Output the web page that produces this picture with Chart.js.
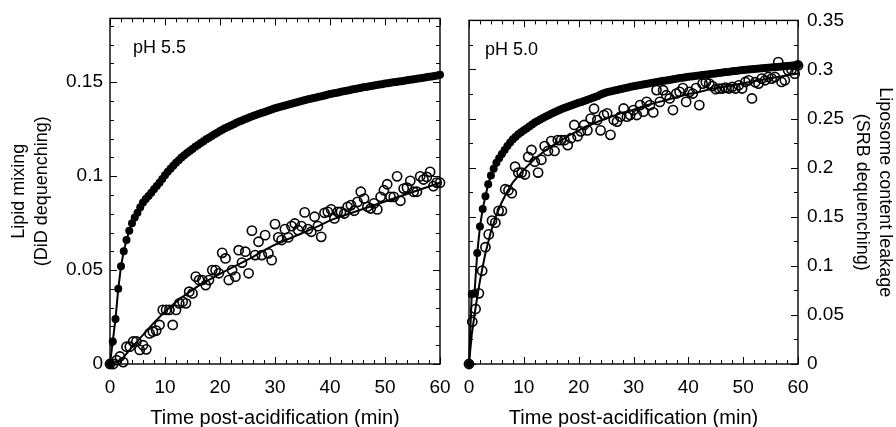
<!DOCTYPE html>
<html>
<head>
<meta charset="utf-8">
<script src="https://cdn.jsdelivr.net/npm/chart.js@4.4.0/dist/chart.umd.min.js"></script>
<style>
  body { margin: 0; background: #fff; }
  #wrap { position: relative; width: 896px; height: 427px; }
  canvas { position: absolute; top: 0; }
  #left { left: 0; }
  #right { left: 455px; }
</style>
</head>
<body>
<div id="wrap">
  <canvas id="left" width="455" height="427"></canvas>
  <canvas id="right" width="441" height="427"></canvas>
</div>
<script>
// sampling times (min)
var timesFilled = [0,0.5,1,1.5,2,2.5,3,3.5,4,4.5,5,5.5,6,6.5,7,7.5,8,8.5,9,9.5,10,
  10.5,11,11.5,12,12.5,13,13.5,14,14.5,15,15.5,16,16.5,17,17.5,18,18.5,19,19.5,20,
  20.5,21,21.5,22,22.5,23,23.5,24,24.5,25,25.5,26,26.5,27,27.5,28,28.5,29,29.5,30,
  30.5,31,31.5,32,32.5,33,33.5,34,34.5,35,35.5,36,36.5,37,37.5,38,38.5,39,39.5,40,
  40.5,41,41.5,42,42.5,43,43.5,44,44.5,45,45.5,46,46.5,47,47.5,48,48.5,49,49.5,50,
  50.5,51,51.5,52,52.5,53,53.5,54,54.5,55,55.5,56,56.5,57,57.5,58,58.5,59,59.5,60];
var timesOpen = [0,0.6,1.2,1.8,2.4,3,3.6,4.2,4.8,5.4,6,6.6,7.2,7.8,8.4,9,9.6,10.2,10.8,11.4,
  12,12.6,13.2,13.8,14.4,15,15.6,16.2,16.8,17.4,18,18.6,19.2,19.8,20.4,21,21.6,22.2,22.8,23.4,
  24,24.6,25.2,25.8,26.4,27,27.6,28.2,28.8,29.4,30,30.6,31.2,31.8,32.4,33,33.6,34.2,34.8,35.4,
  36,36.6,37.2,37.8,38.4,39,39.6,40.2,40.8,41.4,42,42.6,43.2,43.8,44.4,45,45.6,46.2,46.8,47.4,
  48,48.6,49.2,49.8,50.4,51,51.6,52.2,52.8,53.4,54,54.6,55.2,55.8,56.4,57,57.6,58.2,58.8,59.4,60];

// pH 5.5 panel
var lipidMix55 = [0,0.012,0.024,0.040,0.052,0.060,0.066,0.071,0.075,0.078,0.0805,0.0835,0.086,0.0878,0.0895,0.0912,0.0930,0.0948,0.0965,0.0985,0.1005,
  0.1023,0.1040,0.1056,0.1071,0.1085,0.1099,0.1111,0.1123,0.1134,0.1145,
  0.1156,0.1166,0.1176,0.1186,0.1196,0.1205,0.1214,0.1223,0.1231,0.1240,
  0.1248,0.1256,0.1263,0.1270,0.1277,0.1284,0.1291,0.1297,0.1303,0.1309,
  0.1315,0.1320,0.1326,0.1331,0.1336,0.1341,0.1346,0.1351,0.1356,0.1361,
  0.1365,0.1369,0.1373,0.1377,0.1381,0.1385,0.1389,0.1393,0.1397,0.1401,
  0.1405,0.1409,0.1412,0.1416,0.1419,0.1423,0.1426,0.1430,0.1433,0.1437,
  0.1440,0.1443,0.1446,0.1449,0.1452,0.1455,0.1458,0.1461,0.1464,0.1467,
  0.1470,0.1473,0.1475,0.1478,0.1480,0.1483,0.1485,0.1488,0.1490,0.1493,
  0.1495,0.1497,0.1500,0.1502,0.1504,0.1506,0.1508,0.1511,0.1513,0.1515,
  0.1517,0.1520,0.1522,0.1524,0.1527,0.1529,0.1531,0.1533,0.1536,0.1540];
var leakage55 = [0,0.000,0.002,0.004,0.001,0.0092,0.0092,0.012,0.012,0.0075,
  0.010,0.0078,0.0163,0.0172,0.0178,0.0208,0.0288,0.0288,0.0288,0.0208,
  0.0288,0.0323,0.0332,0.0323,0.0385,0.0376,0.0465,0.0447,0.0447,0.042,
  0.0447,0.050,0.050,0.0483,0.0592,0.0562,0.0447,0.050,0.0465,0.0606,
  0.054,0.0598,0.0483,0.071,0.058,0.0651,0.058,0.0686,0.0589,0.0553,
  0.0745,0.0674,0.066,0.0718,0.0674,0.0734,0.0748,0.0713,0.0734,0.0807,
  0.0718,0.0704,0.0784,0.0734,0.0677,0.0805,0.0810,0.0823,0.0775,0.0810,
  0.0810,0.0801,0.0837,0.0846,0.0816,0.0863,0.0917,0.0881,0.0837,0.0828,
  0.0855,0.0823,0.0890,0.0925,0.0957,0.0890,0.0890,0.0999,0.0869,0.0934,
  0.0939,0.0975,0.0917,0.0917,0.0999,0.0982,0.0996,0.1023,0.0947,0.0966,0.0965];
var fitTimes55 = [0,2,4,6,8,10,12,14,16,18,20,22,24,26,28,30,32,34,36,38,40,42,44,46,48,50,52,54,56,58,60];
var leakageFit55 = [0,0.002,0.009,0.0155,0.022,0.028,0.033,0.0375,0.0415,0.0448,0.048,0.051,0.054,0.057,0.0605,0.0635,
  0.066,0.0685,0.071,0.0735,0.0765,0.0785,0.0805,0.0825,0.0845,0.0865,0.0885,0.0905,0.0925,0.0945,0.0965];

// pH 5.0 panel
var lipidMix50 = [0,0.071,0.072,0.113,0.140,0.158,0.171,0.183,0.192,0.199,0.205,0.2095,0.214,0.218,0.222,0.2255,0.229,0.2315,0.234,0.236,0.238,
  0.240,0.242,0.244,0.246,0.2475,0.249,0.2505,0.252,0.2535,0.255,
  0.2563,0.2575,0.2588,0.260,0.261,0.262,0.263,0.264,0.265,0.266,
  0.267,0.268,0.269,0.270,0.271,0.272,0.273,0.2745,0.2755,0.2765,
  0.2772,0.2778,0.2785,0.2791,0.2798,0.2804,0.2811,0.2817,0.2824,0.2830,
  0.2835,0.2840,0.2845,0.2850,0.2855,0.2860,0.2865,0.2870,0.2875,0.2880,
  0.2885,0.2889,0.2894,0.2898,0.2903,0.2907,0.2912,0.2916,0.2921,0.2925,
  0.2929,0.2932,0.2936,0.2939,0.2943,0.2946,0.2950,0.2953,0.2957,0.2960,
  0.2964,0.2967,0.2971,0.2974,0.2978,0.2981,0.2985,0.2988,0.2992,0.2995,
  0.2997,0.3000,0.3002,0.3005,0.3007,0.3010,0.3012,0.3015,0.3017,0.3020,
  0.3022,0.3025,0.3027,0.3030,0.3032,0.3035,0.3037,0.3040,0.3042,0.3045];
var leakage50 = [0,0.043,0.056,0.072,0.095,0.119,0.132,0.146,0.144,0.156,
  0.156,0.178,0.177,0.174,0.201,0.195,0.195,0.193,0.211,0.218,
  0.206,0.195,0.208,0.222,0.217,0.227,0.217,0.228,0.228,0.228,
  0.223,0.230,0.2435,0.232,0.237,0.2435,0.238,0.250,0.260,0.2485,
  0.238,0.2536,0.2553,0.2334,0.2485,0.2469,0.2519,0.2603,0.2519,0.2536,
  0.2587,0.2536,0.2637,0.257,0.267,0.2637,0.2563,0.279,0.267,0.2789,
  0.2738,0.2705,0.2587,0.2755,0.2772,0.281,0.267,0.2772,0.2755,0.281,
  0.2637,0.2856,0.287,0.2856,0.283,0.2799,0.2806,0.2806,0.2815,0.2806,
  0.2822,0.2806,0.2839,0.2806,0.2873,0.289,0.2705,0.287,0.2856,0.2907,
  0.289,0.2924,0.2907,0.2924,0.3075,0.2873,0.289,0.2991,0.300,0.2957,0.3041];
var fitTimes50 = [0,0.5,1,1.5,2,3,4,5,6,7,8,10,12,14,16,18,20,22,24,26,28,30,32,34,36,38,40,42,44,46,48,50,52,54,56,58,60];
var leakageFit50 = [0,0.03,0.05,0.068,0.085,0.113,0.135,0.152,0.165,0.176,0.185,0.198,0.209,0.218,0.225,0.232,0.238,0.243,0.248,
  0.252,0.256,0.259,0.263,0.266,0.269,0.272,0.275,0.277,0.280,0.282,0.284,0.286,0.288,0.290,0.292,0.294,0.296];

var FONT = "'Liberation Sans', Arial, Helvetica, sans-serif";

function pairs(ts, vs) {
  return ts.map(function(t, i) { return { x: t, y: vs[i] }; });
}

// box frame with inward major/minor ticks on all four sides, plus the pH label
var framePlugin = {
  id: 'frame',
  beforeDatasetsDraw: function(chart, args, opts) {
    var ctx = chart.ctx, a = chart.chartArea;
    var xs = chart.scales.x, ys = chart.scales.y;
    ctx.save();
    ctx.strokeStyle = '#000';
    ctx.lineWidth = 1.4;
    ctx.strokeRect(a.left, a.top, a.right - a.left, a.bottom - a.top);
    ctx.lineWidth = 1;
    ctx.beginPath();
    for (var v = 0; v <= 60.001; v += 2) {
      var len = (Math.round(v) % 10 === 0) ? 7 : 4;
      var px = Math.round(xs.getPixelForValue(v)) + 0.5;
      ctx.moveTo(px, a.bottom); ctx.lineTo(px, a.bottom - len);
      ctx.moveTo(px, a.top); ctx.lineTo(px, a.top + len);
    }
    var n = Math.floor(ys.max / opts.yMinor + 1e-6);
    for (var k = 0; k <= n; k++) {
      var yv = k * opts.yMinor;
      var major = Math.abs(yv / 0.05 - Math.round(yv / 0.05)) < 1e-6;
      var l2 = major ? 7 : 4;
      var py = Math.round(ys.getPixelForValue(yv)) + 0.5;
      ctx.moveTo(a.left, py); ctx.lineTo(a.left + l2, py);
      ctx.moveTo(a.right, py); ctx.lineTo(a.right - l2, py);
    }
    ctx.stroke();
    ctx.restore();
  },
  afterDraw: function(chart, args, opts) {
    var ctx = chart.ctx, a = chart.chartArea;
    ctx.save();
    ctx.fillStyle = '#000';
    ctx.font = '18px ' + FONT;
    ctx.textBaseline = 'alphabetic';
    ctx.fillText(opts.label, a.left + opts.labelDx, a.top + 35);
    ctx.restore();
  }
};

function makeChart(id, cfg) {
  return new Chart(document.getElementById(id), {
    type: 'scatter',
    data: {
      datasets: [
        {
          data: pairs(timesFilled, cfg.filled),
          showLine: true,
          borderColor: '#000',
          borderWidth: 2,
          backgroundColor: '#000',
          pointBackgroundColor: '#000',
          pointBorderWidth: 0,
          pointRadius: 4,
          clip: false,
          order: 0
        },
        {
          data: pairs(cfg.fitTimes, cfg.fit),
          showLine: true,
          borderColor: '#000',
          borderWidth: 2,
          pointRadius: 0,
          order: 1
        },
        {
          data: pairs(timesOpen, cfg.open),
          showLine: false,
          pointRadius: 4.6,
          pointBorderColor: '#000',
          pointBackgroundColor: 'rgba(0,0,0,0)',
          pointBorderWidth: 1.6,
          clip: false,
          order: 2
        }
      ]
    },
    options: {
      responsive: false,
      animation: false,
      events: [],
      layout: { autoPadding: false, padding: cfg.padding },
      plugins: {
        legend: { display: false },
        tooltip: { enabled: false },
        frame: { yMinor: cfg.yMinor, label: cfg.label, labelDx: cfg.labelDx }
      },
      scales: {
        x: {
          type: 'linear',
          min: 0, max: 60,
          afterFit: function(s) { s.height = 63; s.paddingLeft = 0; s.paddingRight = 0; },
          grid: { display: false, drawTicks: false },
          border: { display: false },
          ticks: {
            stepSize: 10, includeBounds: false, padding: 12,
            color: '#000', font: { family: FONT, size: 19 },
            maxRotation: 0, autoSkip: false
          },
          title: {
            display: true, text: 'Time post-acidification (min)',
            color: '#000', font: { family: FONT, size: 20, lineHeight: 1.2 },
            padding: { top: 0, bottom: -3 }
          }
        },
        y: {
          type: 'linear',
          position: cfg.yPos,
          min: 0, max: cfg.yMax,
          afterFit: function(s) { s.width = cfg.yWidth; },
          grid: { display: false, drawTicks: false },
          border: { display: false },
          ticks: {
            stepSize: 0.05, includeBounds: false, padding: cfg.yPad,
            color: '#000', font: { family: FONT, size: 19 },
            callback: function(v) { return String(+v.toFixed(3)); }
          },
          title: {
            display: true, text: cfg.yTitle,
            color: '#000', font: { family: FONT, size: 18, lineHeight: 1.3 },
            padding: { top: cfg.yTitlePad, bottom: 0 }
          }
        }
      }
    },
    plugins: [framePlugin]
  });
}

makeChart('left', {
  filled: lipidMix55, open: leakage55, fitTimes: fitTimes55, fit: leakageFit55,
  yMax: 0.184, yPos: 'left', yWidth: 110, yPad: 7, yTitlePad: 7, yMinor: 0.01,
  yTitle: ['Lipid mixing', '(DiD dequenching)'],
  padding: { top: 18, right: 15, left: 0, bottom: 0 },
  label: 'pH 5.5', labelDx: 23
});

makeChart('right', {
  filled: lipidMix50, open: leakage50, fitTimes: fitTimes50, fit: leakageFit50,
  yMax: 0.35, yPos: 'right', yWidth: 98, yPad: 9, yTitlePad: -1, yMinor: 0.025,
  yTitle: ['Liposome content leakage', '(SRB dequenching)'],
  padding: { top: 18, right: 0, left: 14, bottom: 0 },
  label: 'pH 5.0', labelDx: 16
});
</script>
</body>
</html>
